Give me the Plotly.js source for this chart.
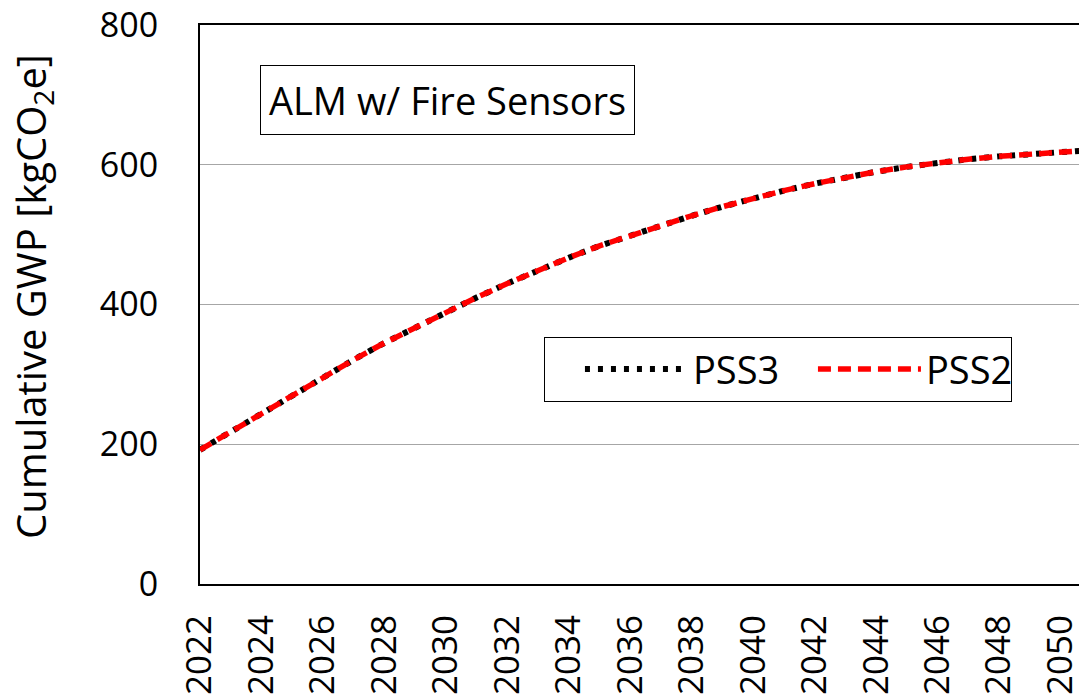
<!DOCTYPE html>
<html>
<head>
<meta charset="utf-8">
<script src="https://cdn.plot.ly/plotly-3.0.1.min.js"></script>
<style>html,body{margin:0;padding:0;background:#fff;}#chart{width:1079px;height:700px;}</style>
</head>
<body>
<div id="chart"></div>
<script>
const years = [2022,2023,2024,2025,2026,2027,2028,2029,2030,2031,2032,2033,2034,2035,2036,2037,2038,2039,2040,2041,2042,2043,2044,2045,2046,2047,2048,2049,2050,2051];
const pss3 = [192,218,245,271,296,321,345,367,389,410,430,449,467,484,499,514,527,540,552,563,573,582,590,597,603,608,612,615,618,621];
const pss2 = [192,218,245,271,296,321,345,367,389,410,430,449,467,484,499,514,527,540,552,563,573,582,590,597,603,608,612,615,618,621];
const xTicks = [2022,2024,2026,2028,2030,2032,2034,2036,2038,2040,2042,2044,2046,2048,2050];
const yTicks = [0,200,400,600,800];
const panelLabel = "ALM w/ Fire Sensors";
const yTitle = "Cumulative GWP [kgCO<sub>2</sub>e]";

const FONT = "Open Sans, Noto Sans, sans-serif";

const traces = [
  {x: years, y: pss3, name: "PSS3", mode: "lines", type: "scatter",
   line: {color: "#000000", width: 6, dash: "5px,8px"}},
  {x: years, y: pss2, name: "PSS2", mode: "lines", type: "scatter",
   line: {color: "#ff0000", width: 5.5, dash: "13px,7px"}}
];

const layout = {
  width: 1079, height: 700,
  margin: {l: 200, r: 0, t: 25, b: 116},
  paper_bgcolor: "#ffffff", plot_bgcolor: "#ffffff",
  font: {family: FONT, color: "#000000", size: 34},
  showlegend: true,
  legend: {
    orientation: "h", x: 0.3913, y: 0.442, xanchor: "left", yanchor: "top",
    bordercolor: "#000000", borderwidth: 1, bgcolor: "#ffffff",
    font: {family: FONT, size: 38, color: "#000000"},
    itemwidth: 103, indentation: 35, entrywidth: 80, entrywidthmode: "pixels",
    traceorder: "normal"
  },
  xaxis: {
    range: [2022, 2050.6], tickmode: "array", tickvals: xTicks, ticktext: xTicks.map(String),
    tickangle: -90, ticks: "", showgrid: false, zeroline: false,
    showline: true, linecolor: "#000000", linewidth: 2, mirror: true,
    tickfont: {family: FONT, size: 35}, ticklabelstandoff: 15, ticklabeloverflow: "allow"
  },
  yaxis: {
    range: [0, 800], tickmode: "array", tickvals: yTicks, ticktext: yTicks.map(String),
    ticks: "", showgrid: true, gridcolor: "#a6a6a6", gridwidth: 1, zeroline: false,
    showline: true, linecolor: "#000000", linewidth: 2,
    tickfont: {family: FONT, size: 34}, ticklabelstandoff: 33, ticklabeloverflow: "allow"
  },
  annotations: [
    {
      text: panelLabel, xref: "paper", yref: "paper", x: 0.2816, y: 0.8667,
      xanchor: "center", yanchor: "middle", showarrow: false,
      font: {family: FONT, size: 38, color: "#000000"},
      bordercolor: "#000000", borderwidth: 1, borderpad: 8, bgcolor: "#ffffff"
    },
    {
      text: yTitle, xref: "paper", yref: "paper", x: -0.1911, y: 0.5134,
      xanchor: "center", yanchor: "middle", showarrow: false, textangle: -90,
      font: {family: FONT, size: 40, color: "#000000"}
    }
  ]
};

Plotly.newPlot("chart", traces, layout, {displayModeBar: false, staticPlot: true});
</script>
</body>
</html>
